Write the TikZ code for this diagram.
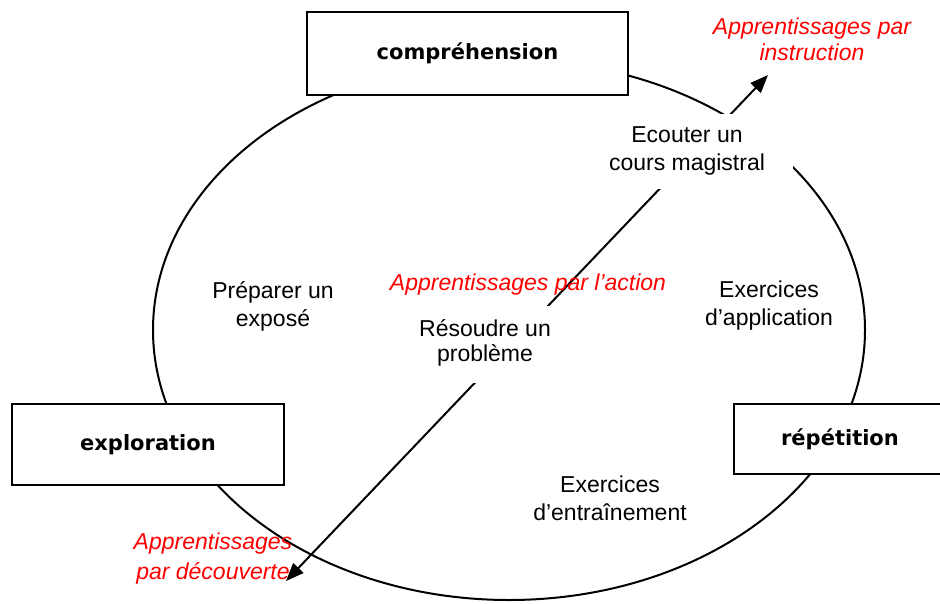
\documentclass[tikz,border=0pt]{standalone}
\usepackage{fontspec}
\setmainfont{Liberation Sans}
\newfontfamily\boxfont{DejaVu Sans}
\usetikzlibrary{arrows.meta}
\definecolor{redtext}{RGB}{255,0,0}
\tikzset{
  cycleline/.style={line width=2pt},
  labelbox/.style={draw, line width=2.2pt, fill=white, inner sep=0pt,
    font=\boxfont\bfseries\fontsize{21}{25}\selectfont},
  actfont/.style={font=\fontsize{23}{28}\selectfont},
  activity/.style={actfont, align=center, inner sep=0pt},
  cover/.style={fill=white},
  mode/.style={text=redtext, font=\itshape\fontsize{23}{26}\selectfont, align=center, inner sep=0pt},
  learnarrow/.style={line width=2pt, {Triangle[length=18pt,width=14pt]}-{Triangle[length=18pt,width=14pt]}},
}
\begin{document}
\begin{tikzpicture}[x=1pt,y=-1pt]
\useasboundingbox (0,0) rectangle (940,603);
% cycle
\draw[cycleline] (509,330) ellipse [x radius=356pt, y radius=270pt];
% learning arrow
\coordinate (tipB) at (286,581);
\coordinate (tipT) at (768,75);
\draw[learnarrow] (tipB) -- (tipT);
% boxes
\node[labelbox, minimum width=321pt, minimum height=83pt] (compr) at (467.5,53.5) {compréhension};
\node[labelbox, minimum width=272pt, minimum height=81pt] (explo) at (148,444.5) {exploration};
\node[labelbox, minimum width=212pt, minimum height=70pt] (repet) at (840,439) {répétition};
% activities
\node[actfont, cover, inner sep=0pt, minimum width=193pt, minimum height=75pt] (ecouter) at (696,151)
  {\hspace*{-18pt}\begin{tabular}{@{}c@{}}Ecouter un\\cours magistral\end{tabular}};
\node[actfont, cover, inner sep=0pt, minimum width=140pt, minimum height=77pt] (resoudre) at (485,344)
  {\fontsize{23}{25.5}\selectfont\begin{tabular}{@{}c@{}}Résoudre un\\problème\end{tabular}};
\node[activity] (preparer) at (273,306) {Préparer un\\exposé};
\node[activity] (applic) at (769,306) {Exercices\\d’application};
\node[activity] (entrain) at (610,498) {Exercices\\d’entraînement};
% learning modes
\node[mode] (instr) at (812,39) {Apprentissages par\\instruction};
\node[mode] (action) at (528,285) {Apprentissages par l’action};
\node[mode, font=\itshape\fontsize{23}{30}\selectfont] (decouv) at (213,559) {Apprentissages\\par découverte};
\end{tikzpicture}
\end{document}
